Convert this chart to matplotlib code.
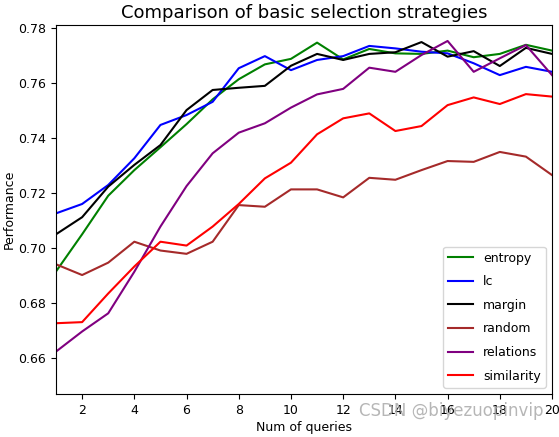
import matplotlib
matplotlib.use('Agg')
import numpy as np
from matplotlib import pyplot as plt

queries = list(range(1, 21))

entropy = [0.6915, 0.705, 0.719, 0.7283, 0.7366, 0.745, 0.754, 0.7613, 0.7667, 0.7687,
           0.7746, 0.7685, 0.7723, 0.7707, 0.7705, 0.7717, 0.7693, 0.7705, 0.7738, 0.7717]
lc = [0.7126, 0.716, 0.7229, 0.7326, 0.7447, 0.7483, 0.7531, 0.7653, 0.7697, 0.7646,
      0.7683, 0.7697, 0.7734, 0.7725, 0.7713, 0.7707, 0.7671, 0.7628, 0.7658, 0.764]
margin = [0.705, 0.7112, 0.7223, 0.7302, 0.7374, 0.7501, 0.7574, 0.7582, 0.7589, 0.7662,
          0.7705, 0.7683, 0.7705, 0.7711, 0.7748, 0.7695, 0.7715, 0.7661, 0.7727, 0.7705]
random_ = [0.6941, 0.6902, 0.6947, 0.7023, 0.6991, 0.6979, 0.7023, 0.7156, 0.715, 0.7213,
           0.7213, 0.7184, 0.7255, 0.7248, 0.7283, 0.7316, 0.7313, 0.7349, 0.7332, 0.7265]
relations = [0.6624, 0.6697, 0.6763, 0.6914, 0.7078, 0.7225, 0.7344, 0.7419, 0.7453, 0.751,
             0.7558, 0.7578, 0.7655, 0.764, 0.7701, 0.7752, 0.764, 0.7689, 0.7737, 0.7628]
similarity = [0.6727, 0.6731, 0.6835, 0.6933, 0.7023, 0.7009, 0.7078, 0.716, 0.7253, 0.731,
              0.7413, 0.7471, 0.7489, 0.7425, 0.7443, 0.7519, 0.7547, 0.7523, 0.7559, 0.755]

names = ['entropy', 'lc', 'margin', 'random', 'relations', 'similarity']
series = [entropy, lc, margin, random_, relations, similarity]
colors = ['green', 'blue', 'black', 'brown', 'purple', 'red']

plt.rcParams['font.family'] = ['DejaVu Sans']

fig = plt.figure(figsize=(5.59, 4.37), dpi=100)
ax = fig.add_axes([0.1002, 0.0984, 0.8873, 0.8444])

for name, vals, c in zip(names, series, colors):
    ax.plot(queries, vals, color=c, label=name, linewidth=1.5)

ax.set_xlim(1, 20)
ax.set_ylim(0.647, 0.781)
ax.set_xticks([2, 4, 6, 8, 10, 12, 14, 16, 18, 20])
ax.set_yticks([0.66, 0.68, 0.70, 0.72, 0.74, 0.76, 0.78])
ax.tick_params(labelsize=9)
ax.set_title('Comparison of basic selection strategies', fontsize=13, pad=5)
ax.set_xlabel('Num of queries', fontsize=9, labelpad=3)
ax.set_ylabel('Performance', fontsize=9, labelpad=2)
ax.legend(loc='lower right', fontsize=9, labelspacing=0.85, borderaxespad=0.5)

# watermark from the source image
fig.text(0.972, 0.038, 'CSDN @biyezuopinvip', ha='right', va='bottom',
         fontsize=12, color='#aaaaaa', alpha=0.85)

plt.savefig('out.png', dpi=100)
